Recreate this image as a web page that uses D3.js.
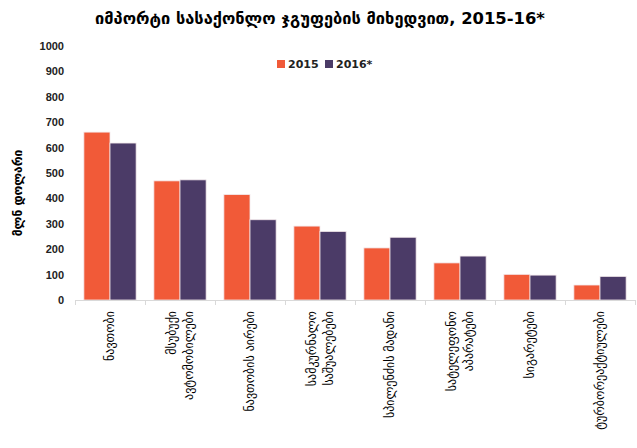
<!DOCTYPE html>
<meta charset="utf-8">
<style>
body { margin: 0; background: #fff; }
text { font-family: "DejaVu Sans", sans-serif; }
.axis text { font-family: "Liberation Sans", "DejaVu Sans", sans-serif; font-weight: bold; font-size: 11px; fill: #222; }
</style>
<svg width="637" height="448"></svg>
<script src="https://d3js.org/d3.v7.min.js"></script>
<script>

// data
var categories = [
  ["ნავთობი"],
  ["მსუბუქი", "ავტომობილები"],
  ["ნავთობის აირები"],
  ["სამკურნალო", "საშუალებები"],
  ["სპილენძის მადანი"],
  ["სატელეფონო", "აპარატები"],
  ["სიგარეტები"],
  ["ტურბორეაქტიულები"]
];
var series = ["2015", "2016*"];
var values2015 = [661, 469, 415, 291, 205, 146, 101, 59];
var values2016 = [618, 473, 316, 270, 247, 173, 98, 93];
var yTicks = [0, 100, 200, 300, 400, 500, 600, 700, 800, 900, 1000];
var colors = ["#f15a38", "#4b3b67"];

var svg = d3.select("svg");

var x = d3.scaleBand()
    .domain(d3.range(categories.length))
    .range([75, 635]);

var xs = d3.scaleBand()
    .domain(series)
    .range([0, x.bandwidth()])
    .paddingOuter(0.34)
    .paddingInner(0);

var y = d3.scaleLinear()
    .domain([0, 1000])
    .range([300, 46]);

// title
svg.append("text")
    .attr("x", 320)
    .attr("y", 24)
    .attr("text-anchor", "middle")
    .attr("font-weight", "bold")
    .attr("font-size", 16.4)
    .text("იმპორტი სასაქონლო ჯგუფების მიხედვით, 2015-16*");

// y axis
var yAxis = svg.append("g")
    .attr("class", "axis")
    .attr("transform", "translate(69,0)")
    .call(d3.axisLeft(y).tickValues(yTicks).tickFormat(d3.format("d")).tickSize(0).tickPadding(5));
yAxis.select(".domain").remove();

svg.append("text")
    .attr("transform", "translate(22,193) rotate(-90)")
    .attr("text-anchor", "middle")
    .attr("font-size", 12)
    .attr("font-weight", "bold")
    .text("მლნ დოლარი");

// bars
var rows = categories.map(function(c, i) { return [values2015[i], values2016[i]]; });

var groups = svg.append("g")
  .selectAll("g")
  .data(rows)
  .enter().append("g")
    .attr("transform", function(d, i) { return "translate(" + x(i) + ",0)"; });

groups.selectAll("rect")
  .data(function(d) { return d; })
  .enter().append("rect")
    .attr("x", function(d, j) { return xs(series[j]); })
    .attr("y", function(d) { return y(d); })
    .attr("width", xs.bandwidth())
    .attr("height", function(d) { return y(0) - y(d); })
    .attr("fill", function(d, j) { return colors[j]; })
    .attr("stroke", "#f3e9ec")
    .attr("stroke-width", 0.8);

// x axis line and ticks
var xAxis = svg.append("g").attr("stroke", "#d9d9d9");
xAxis.append("line")
    .attr("x1", 75).attr("x2", 635)
    .attr("y1", 300.5).attr("y2", 300.5);
xAxis.selectAll(".tick")
  .data(d3.range(categories.length + 1))
  .enter().append("line")
    .attr("x1", function(i) { return 75.5 + i * x.step(); })
    .attr("x2", function(i) { return 75.5 + i * x.step(); })
    .attr("y1", 300).attr("y2", 305);

// category labels
var labels = svg.append("g")
  .selectAll("text")
  .data(categories)
  .enter().append("text")
    .attr("font-size", 12)
    .attr("text-anchor", "end")
    .attr("transform", function(d, i) {
      return "translate(" + (x(i) + x.bandwidth() / 2) + ",311) rotate(-90)";
    });

labels.selectAll("tspan")
  .data(function(d) { return d; })
  .enter().append("tspan")
    .attr("x", 0)
    .attr("y", function(d, j, nodes) { return 4 + (j - (nodes.length - 1) / 2) * 17; })
    .text(function(d) { return d; });

// legend
var legend = svg.append("g")
  .selectAll("g")
  .data(series)
  .enter().append("g")
    .attr("transform", function(d, i) { return "translate(" + (277 + i * 48) + ",60)"; });

legend.append("rect")
    .attr("width", 8).attr("height", 8)
    .attr("fill", function(d, i) { return colors[i]; });

legend.append("text")
    .attr("x", 11)
    .attr("y", 8)
    .attr("font-family", "Liberation Sans, sans-serif")
    .attr("font-weight", "bold")
    .attr("font-size", 11)
    .attr("fill", "#222")
    .text(function(d) { return d; });

</script>
